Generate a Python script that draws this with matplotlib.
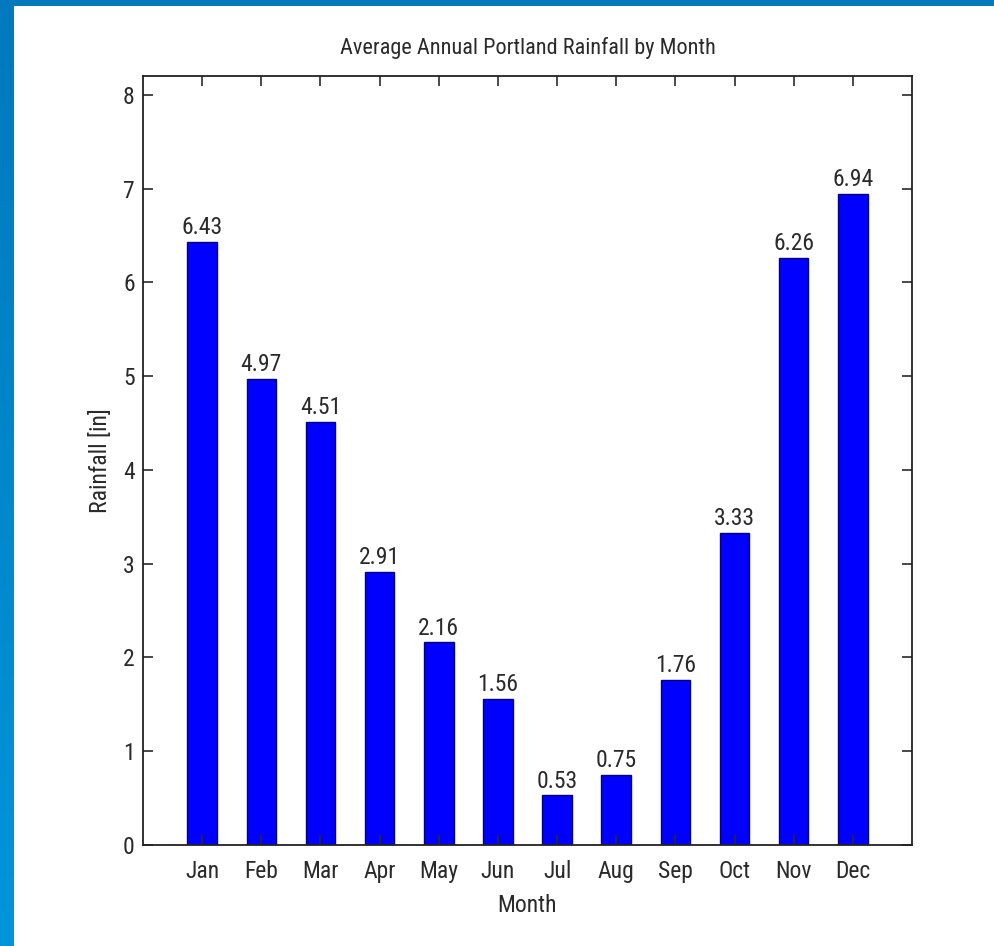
import numpy as np
import matplotlib
matplotlib.use('Agg')
import matplotlib.pyplot as plt
from matplotlib.patches import Rectangle
import logging

# Average monthly rainfall in Portland (inches)
months = ['Jan', 'Feb', 'Mar', 'Apr', 'May', 'Jun',
          'Jul', 'Aug', 'Sep', 'Oct', 'Nov', 'Dec']
rainfall = [6.43, 4.97, 4.51, 2.91, 2.16, 1.56,
            0.53, 0.75, 1.76, 3.33, 6.26, 6.94]
yticks = [0, 1, 2, 3, 4, 5, 6, 7, 8]

# narrow sans looks closest to the squeezed MATLAB text; fall back if missing
logging.getLogger('matplotlib.font_manager').setLevel(logging.ERROR)
plt.rcParams['font.family'] = ['Liberation Sans Narrow', 'Roboto Condensed',
                               'PT Sans Narrow', 'Archivo Narrow',
                               'Liberation Sans', 'DejaVu Sans']

W, H = 995, 946
fig = plt.figure(figsize=(W / 100, H / 100), dpi=100)
fig.patch.set_facecolor('#0079bd')

# slide background: blue gradient strip on the left, white page
bg = fig.add_axes([0, 0, 1, 1], zorder=-10)
grad = np.linspace(0, 1, 256).reshape(-1, 1)
bg.imshow(grad, aspect='auto', extent=[0, 1, 0, 1],
          cmap=matplotlib.colors.LinearSegmentedColormap.from_list(
              'slide', ['#0095da', '#0079bd']), origin='lower')
bg.add_patch(Rectangle((14 / W, 0), 1 - 14 / W, 1 - 6 / H,
                       facecolor='white', edgecolor='none'))
bg.add_patch(Rectangle((0, 1 - 6 / H), 1, 6 / H,
                       facecolor='#0079bd', edgecolor='none'))
bg.set_xlim(0, 1)
bg.set_ylim(0, 1)
bg.axis('off')

# axes box in pixel terms: x 143..912, y 76..845
left, right, top, bottom = 143, 912, 76, 845
ax = fig.add_axes([left / W, 1 - bottom / H, (right - left) / W, (bottom - top) / H])
ax.set_facecolor('white')

x = np.arange(1, len(months) + 1)
ax.bar(x, rainfall, width=0.5, color='#0000ff', edgecolor='#000080', linewidth=1.0)

for xi, v in zip(x, rainfall):
    ax.annotate(f'{v:.2f}', (xi, v), xytext=(0, 2), textcoords='offset points',
                ha='center', va='bottom', fontsize=17, color='#2a2a2a')

ax.set_xlim(0, 13)
ax.set_ylim(0, 8.2)
ax.set_xticks(x)
ax.set_xticklabels(months)
ax.set_yticks(yticks)

ax.tick_params(direction='in', length=7, width=1.2, top=True, right=True,
               labelsize=17, colors='#2a2a2a')
ax.tick_params(axis='x', pad=11)
ax.tick_params(axis='y', pad=6)
for s in ax.spines.values():
    s.set_linewidth(1.3)
    s.set_color('#222222')

ax.set_title('Average Annual Portland Rainfall by Month', fontsize=16,
             color='#2a2a2a', pad=16)
ax.set_xlabel('Month', fontsize=17, color='#2a2a2a', labelpad=8)
ax.set_ylabel('Rainfall [in]', fontsize=17, color='#2a2a2a', labelpad=8)

plt.savefig('out.png', dpi=100)
